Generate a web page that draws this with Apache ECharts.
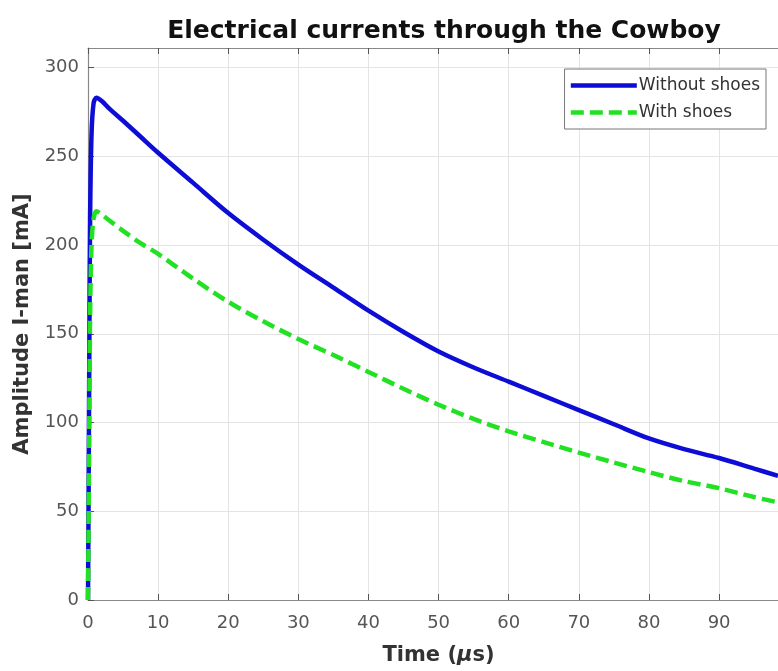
<!DOCTYPE html>
<html><head><meta charset="utf-8">
<script src="https://cdn.jsdelivr.net/npm/echarts@6/dist/echarts.min.js"></script>
<style>html,body{margin:0;padding:0;background:#fff}#c{width:778px;height:671px}</style>
</head><body><div id="c"></div>
<script>
const titleText = 'Electrical currents through the Cowboy';
const xName = 'Time ({i|μ}s)';
const yName = 'Amplitude I-man [mA]';
const seriesNames = ['Without shoes', 'With shoes'];
const timeUs = [0, 0.1, 0.2, 0.3, 0.5, 0.8, 1.2, 2, 3, 5, 7.5, 10, 15, 20, 25, 30, 35, 40, 45, 50, 55, 60, 65, 70, 75, 80, 85, 90, 95, 98.4];
const withoutShoes = [0, 70, 150, 215, 262, 280, 283, 281, 277, 270, 261, 252, 235, 218, 203, 189, 176, 163, 151, 140, 131, 123, 115, 107, 99, 91, 85, 80, 74, 70];
const withShoes = [0, 50, 110, 160, 200, 215, 219, 217, 214, 208, 201, 195, 181, 168, 157, 147, 138, 128.5, 119, 110, 102, 95, 89, 83, 77.5, 72, 67, 63, 58, 55];
const yTicks = [0, 50, 100, 150, 200, 250, 300];
const xTicks = [0, 10, 20, 30, 40, 50, 60, 70, 80, 90];

const font = '"DejaVu Sans", "Liberation Sans", Arial, sans-serif';
const pair = (xs, ys) => xs.map((x, i) => [x, ys[i]]);
const chart = echarts.init(document.getElementById('c'), null, {renderer: 'canvas'});
chart.setOption({
  backgroundColor: '#fff',
  animation: false,
  title: {
    text: titleText, left: 439, top: 14, textAlign: 'center',
    textStyle: {fontFamily: font, fontSize: 25, fontWeight: 'bold', color: '#111'}
  },
  legend: {
    orient: 'vertical', right: 12, top: 69,
    backgroundColor: '#fff', borderColor: '#777', borderWidth: 1,
    padding: [8, 6, 8, 4], itemGap: 10, itemWidth: 66, itemHeight: 14,
    itemStyle: {opacity: 0},
    lineStyle: {width: 4.5},
    textStyle: {fontFamily: font, fontSize: 17, color: '#333', padding: [0, 0, 0, -3]},
    data: seriesNames
  },
  grid: {left: 88, right: 0, top: 48, bottom: 70, containLabel: false},
  xAxis: [{
    type: 'value', min: xTicks[0], max: 98.4, interval: 10,
    name: xName, nameLocation: 'middle', nameGap: 45,
    nameTextStyle: {fontFamily: font, fontSize: 21, fontWeight: 'bold', color: '#333', padding: [0, 0, 0, 11],
      rich: {i: {fontFamily: font, fontSize: 21, fontStyle: 'italic', color: '#333'}}},
    axisLine: {show: true, lineStyle: {color: '#888', width: 1.2}},
    axisTick: {show: true, inside: true, length: 6, lineStyle: {color: '#555'}},
    axisLabel: {fontFamily: font, fontSize: 18, color: '#555', margin: 14, showMaxLabel: false},
    splitLine: {show: true, lineStyle: {color: '#e4e4e4', width: 1}}
  }, {
    type: 'value', position: 'top', min: xTicks[0], max: 98.4, interval: 10,
    axisLine: {show: true, lineStyle: {color: '#888', width: 1}},
    axisTick: {show: true, inside: true, length: 6, lineStyle: {color: '#555'}},
    axisLabel: {show: false}, splitLine: {show: false}
  }],
  yAxis: {
    type: 'value', min: yTicks[0], max: 311, interval: 50,
    name: yName, nameLocation: 'middle', nameGap: 55, nameRotate: 90,
    nameTextStyle: {fontFamily: font, fontSize: 21, fontWeight: 'bold', color: '#333'},
    axisLine: {show: true, lineStyle: {color: '#888', width: 1.2}},
    axisTick: {show: true, inside: true, length: 6, lineStyle: {color: '#555'}},
    axisLabel: {fontFamily: font, fontSize: 18, color: '#555', margin: 9, showMaxLabel: false},
    splitLine: {show: true, lineStyle: {color: '#e4e4e4', width: 1}}
  },
  series: [{
    name: seriesNames[0], type: 'line', data: pair(timeUs, withoutShoes),
    symbol: 'none', smooth: 0.3, clip: true,
    lineStyle: {color: '#0d0dd6', width: 4.5}, itemStyle: {color: '#0d0dd6'}
  }, {
    name: seriesNames[1], type: 'line', data: pair(timeUs, withShoes),
    symbol: 'none', smooth: 0.3, clip: true,
    lineStyle: {color: '#22e022', width: 4.5, type: [13, 6]}, itemStyle: {color: '#22e022'}
  }]
});
</script></body></html>
